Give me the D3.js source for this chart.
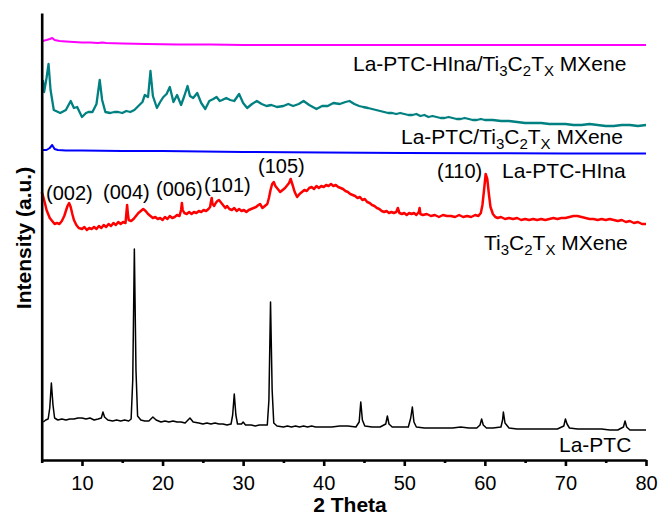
<!DOCTYPE html>
<html>
<head>
<meta charset="utf-8">
<script src="https://d3js.org/d3.v7.min.js"></script>
<style>
  body { margin: 0; background: #fff; }
  svg text { font-family: Arial, "Liberation Sans", sans-serif; fill: #000; }
</style>
</head>
<body>
<div id="chart"></div>
<script>
// 2 Theta vs intensity (arbitrary units, offset per pattern)
var laPTC = [[5.2,38],[5.5,40],[5.8,41],[6.0,52],[6.2,77],[6.4,55],[6.6,42],[7,40],[7.5,41],[8,40],[8.5,41],[9,41],[9.5,42],[10,42],[10.5,41],[11,42],[11.5,40],[12,41],[12.4,42],[12.6,48],[12.8,43],[13.2,40],[13.8,39],[14.3,40],[14.8,39],[15.3,40],[15.8,39],[16.1,41],[16.3,80],[16.5,211],[16.7,90],[16.9,44],[17.3,40],[17.8,39],[18.3,39],[18.8,43],[19.2,40],[19.8,38],[20.3,39],[20.8,38],[21.3,39],[21.8,38],[22.3,38],[22.8,37],[23.4,42],[23.8,38],[24.5,37],[25,36],[25.5,37],[26,36],[26.5,37],[27,36],[27.5,36],[28,35],[28.5,36],[28.7,45],[28.9,66],[29.1,45],[29.3,36],[29.8,36],[30,38],[30.3,35],[31,35],[31.5,34],[32,35],[32.5,35],[33,35],[33.2,60],[33.4,158],[33.6,70],[33.8,37],[34.2,34],[35,33],[35.5,34],[36,33],[36.5,34],[37,33],[37.5,34],[38,33],[38.5,34],[39,33],[40,33],[41,33],[42,34],[43,34],[44,33],[44.4,38],[44.6,58],[44.8,40],[45.1,34],[46,33],[47,33],[47.7,36],[47.9,44],[48.1,36],[48.5,33],[49.5,33],[50.5,33],[50.8,42],[51,53],[51.2,38],[51.5,33],[52.5,32],[53.5,32],[55,32],[56,32],[57,33],[58,32],[59,32],[59.4,35],[59.6,41],[59.8,35],[60.2,32],[61,32],[62,33],[62.2,40],[62.3,48],[62.5,37],[63,32],[64,31],[65,31],[66,31],[67,31],[68,31],[69,31],[69.8,34],[70,41],[70.2,36],[70.5,32],[71.5,31],[72.5,31],[73.5,31],[74.5,31],[75.5,30],[76.5,30],[77.2,33],[77.4,39],[77.6,33],[78,30],[79,30],[80,30]];

var mxene = [[5.0,268],[5.2,263],[5.4,257],[5.6,250],[5.8,246],[6.0,242],[6.3,239],[6.6,236],[6.9,237],[7.2,236],[7.5,239],[7.8,244],[8.0,249],[8.2,254],[8.4,257],[8.6,253],[8.8,246],[9.0,240],[9.3,235],[9.6,232],[10.0,231],[10.3,233],[10.6,230],[10.9,232],[11.2,231],[11.5,233],[11.8,231],[12.1,234],[12.4,232],[12.7,235],[13.0,233],[13.3,236],[13.6,234],[13.9,237],[14.2,235],[14.5,238],[14.8,236],[15.1,238],[15.4,237],[15.5,246],[15.6,255],[15.7,246],[15.8,240],[16.1,239],[16.4,241],[16.7,244],[17.0,247],[17.3,249],[17.6,251],[17.9,249],[18.2,246],[18.5,244],[18.8,242],[19.1,243],[19.4,241],[19.7,242],[20.0,240],[20.3,243],[20.6,241],[20.9,244],[21.2,242],[21.5,243],[21.8,245],[22.1,244],[22.3,250],[22.4,257],[22.5,250],[22.7,247],[23.0,246],[23.3,248],[23.6,246],[23.9,248],[24.2,247],[24.5,249],[24.8,248],[25.1,250],[25.4,249],[25.7,251],[25.9,253],[26.0,258],[26.1,262],[26.2,256],[26.4,254],[26.6,257],[26.8,259],[27.0,260],[27.2,258],[27.4,256],[27.6,254],[27.8,252],[28.0,254],[28.3,251],[28.6,250],[28.9,252],[29.2,249],[29.5,251],[29.8,249],[30.1,250],[30.4,248],[30.7,250],[31.0,251],[31.3,252],[31.6,253],[31.9,255],[32.1,256],[32.4,252],[32.7,254],[33.0,256],[33.2,262],[33.4,270],[33.6,276],[33.8,278],[34.0,274],[34.3,271],[34.6,268],[34.9,270],[35.2,272],[35.5,275],[35.7,277],[35.9,281],[36.1,276],[36.4,268],[36.7,263],[37.0,266],[37.3,268],[37.6,270],[37.9,269],[38.2,272],[38.5,273],[38.8,271],[39.1,274],[39.4,272],[39.7,274],[40.0,273],[40.3,275],[40.6,274],[40.9,276],[41.2,274],[41.5,275],[41.8,273],[42.1,272],[42.4,271],[42.7,269],[43.0,268],[43.3,266],[43.6,265],[43.9,264],[44.2,262],[44.5,263],[44.8,260],[45.1,261],[45.4,258],[45.7,257],[46.0,255],[46.3,254],[46.6,252],[46.9,251],[47.2,249],[47.5,248],[47.8,249],[48.1,247],[48.4,248],[48.7,247],[49.0,248],[49.2,252],[49.4,247],[49.7,246],[50.0,247],[50.3,245],[50.6,247],[50.9,246],[51.2,247],[51.5,245],[51.8,248],[51.9,252],[52.0,246],[52.3,245],[52.8,246],[53.3,244],[53.8,245],[54.3,243],[54.8,245],[55.3,244],[55.8,244],[56.3,243],[56.8,245],[57.3,243],[57.8,244],[58.3,243],[58.8,245],[59.2,244],[59.5,247],[59.7,255],[59.9,270],[60.1,286],[60.3,281],[60.5,266],[60.7,253],[61.0,246],[61.3,243],[61.6,242],[62.0,243],[62.5,241],[63.0,242],[63.5,241],[64.0,242],[64.5,240],[65.0,241],[65.5,240],[66.0,241],[66.5,240],[67.0,241],[67.5,240],[68.0,241],[68.5,242],[69.0,241],[69.5,242],[70.0,242],[70.5,243],[71.0,244],[71.5,244],[72.0,243],[72.5,242],[73.0,241],[73.5,241],[74.0,240],[74.5,241],[75.0,240],[75.5,241],[76.0,240],[76.5,239],[77.0,240],[77.5,238],[78.0,239],[78.5,237],[79.0,238],[79.5,236],[80.0,236]];

var laPTCHIna = [[5.1,310],[5.6,310],[6.0,312],[6.3,315],[6.6,311],[7,310],[8,309.5],[10,309.5],[15,309],[20,309],[25,308.5],[30,308],[40,307.5],[50,307],[60,306.8],[70,306.5],[80,306.5]];

var laPTCMx = [[5.15,380],[5.3,368],[5.6,382],[5.85,396],[6.1,370],[6.5,350],[7.3,347],[8.0,350],[8.6,359],[9.0,352],[9.4,353],[10.0,343],[10.5,347],[10.8,348],[11.3,348],[11.8,356],[12.2,380],[12.5,360],[12.9,348],[13.5,347],[14,348],[14.5,348],[15,347],[15.5,349],[16,348],[16.5,350],[17,354],[17.5,358],[17.8,365],[18.2,363],[18.5,389],[18.8,364],[19.3,352],[19.7,358],[20.1,363],[20.5,366],[20.9,373],[21.35,358],[21.8,365],[22.3,355],[22.7,364],[23.1,374],[23.4,364],[23.8,362],[24.3,367],[24.8,357],[25.3,351],[25.8,359],[26.3,361],[26.7,363],[27.1,359],[27.4,360],[27.9,362],[28.4,360],[28.9,359],[29.5,366],[30,357],[30.5,352],[31.1,356],[31.7,359],[32.3,356],[32.9,354],[33.5,355],[34.2,353],[35,354],[35.6,356],[36.2,354],[36.9,356],[37.5,359],[38.2,355],[39.1,351],[39.8,354],[40.5,354],[41.2,357],[42,356],[42.7,358],[43.2,359],[43.8,356],[44.4,354],[44.9,353],[45.5,352],[46,351],[46.5,350],[47,349],[47.5,348],[48,347],[48.5,347],[49,346],[49.5,347],[50,346],[50.5,345],[51,345],[51.5,346],[52,344],[52.5,345],[53,343],[53.5,344],[54,343],[54.5,342],[55,342],[55.5,343],[56,342],[56.5,341],[57,341],[57.5,342],[58,341],[58.5,340],[59,340],[59.5,341],[60,340],[61,340],[62,339],[63,339],[64,338],[65,337],[66,337],[67,337],[68,336],[69,336],[70,336],[71,335],[72,335],[73,336],[74,335],[75,334],[76,334],[77,335],[78,335],[79,334],[80,335]];

var laPTCHInaMx = [[5.1,419],[5.6,420],[6,421],[6.3,422],[6.6,420],[7.2,419],[8,418.5],[9,418],[10,417.5],[11,417.5],[12,417],[12.5,417.5],[13,417],[15,416.5],[18,416],[22,415.5],[26,415.5],[30,415],[40,415],[50,415],[60,415],[70,415],[80,415]];

var series = [
  { data: laPTC, color: "#000000", width: 1.5 },
  { data: mxene, color: "#ff0000", width: 2.5 },
  { data: laPTCHIna, color: "#0000ff", width: 2 },
  { data: laPTCMx, color: "#008080", width: 2.3 },
  { data: laPTCHInaMx, color: "#ff00ff", width: 2 }
];

var majorTicks = [10, 20, 30, 40, 50, 60, 70, 80];
var minorTicks = [5, 15, 25, 35, 45, 55, 65, 75];

var peakLabels = ["(002)", "(004)", "(006)", "(101)", "(105)", "(110)"];

(function () {
  var width = 660, height = 515;
  var plotLeft = 41.7, plotRight = 646, plotTop = 13, plotBottom = 460;

  var svg = d3.select("#chart").append("svg")
    .attr("width", width)
    .attr("height", height);

  var x = d3.scaleLinear().domain([5, 80]).range([plotLeft, plotRight]);
  var y = d3.scaleLinear().domain([0, 447]).range([plotBottom, plotTop]);

  var line = d3.line()
    .x(function (d) { return x(d[0]); })
    .y(function (d) { return y(d[1]); });

  series.forEach(function (s) {
    svg.append("path")
      .datum(s.data)
      .attr("d", line)
      .attr("fill", "none")
      .attr("stroke", s.color)
      .attr("stroke-width", s.width)
      .attr("stroke-linejoin", "round");
  });

  // x axis with major + minor ticks
  var xg = svg.append("g")
    .attr("transform", "translate(0," + plotBottom + ")")
    .call(d3.axisBottom(x).tickValues(majorTicks).tickSize(6).tickSizeOuter(0).tickPadding(10));
  xg.select(".domain").attr("stroke-width", 2.6);
  xg.selectAll(".tick line").attr("stroke-width", 2.6);
  xg.selectAll(".tick text").attr("font-size", 20).attr("font-family", "Arial, 'Liberation Sans', sans-serif");

  var xm = svg.append("g")
    .attr("transform", "translate(0," + plotBottom + ")")
    .call(d3.axisBottom(x).tickValues(minorTicks).tickSize(3).tickSizeOuter(0).tickFormat(""));
  xm.select(".domain").remove();
  xm.selectAll(".tick line").attr("stroke-width", 2.6);

  var yg = svg.append("g")
    .attr("transform", "translate(" + plotLeft + ",0)")
    .call(d3.axisLeft(y).tickValues([]).tickSizeOuter(0));
  yg.select(".domain").attr("stroke-width", 2.6);

  svg.append("text")
    .attr("x", 350)
    .attr("y", 512)
    .attr("text-anchor", "middle")
    .attr("font-size", 21)
    .attr("font-weight", "bold")
    .text("2 Theta");

  svg.append("text")
    .attr("transform", "translate(31,238) rotate(-90)")
    .attr("text-anchor", "middle")
    .attr("font-size", 21)
    .attr("font-weight", "bold")
    .text("Intensity (a.u.)");

  // labels: parts are [text, isSubscript]
  function label(px, py, parts) {
    var t = svg.append("text")
      .attr("x", px)
      .attr("y", py)
      .attr("font-size", 21);
    var down = false;
    parts.forEach(function (p) {
      var ts = t.append("tspan").text(p[0]);
      if (p[1]) {
        ts.attr("font-size", 15);
        if (!down) { ts.attr("dy", 5); down = true; }
      } else if (down) {
        ts.attr("dy", -5); down = false;
      }
    });
  }

  label(353, 71, [["La-PTC-HIna/Ti"], ["3", 1], ["C"], ["2", 1], ["T"], ["X", 1], [" MXene"]]);
  label(401, 144, [["La-PTC/Ti"], ["3", 1], ["C"], ["2", 1], ["T"], ["X", 1], [" MXene"]]);
  label(502, 178, [["La-PTC-HIna"]]);
  label(484, 250, [["Ti"], ["3", 1], ["C"], ["2", 1], ["T"], ["X", 1], [" MXene"]]);
  label(559, 452, [["La-PTC"]]);

  var peakLabelX = [46, 103, 156, 204, 258, 437];
  var peakLabelY = [200, 199, 196, 192, 173, 178];
  peakLabels.forEach(function (t, i) {
    svg.append("text")
      .attr("x", peakLabelX[i])
      .attr("y", peakLabelY[i])
      .attr("font-size", 20)
      .text(t);
  });
})();
</script>
</body>
</html>
